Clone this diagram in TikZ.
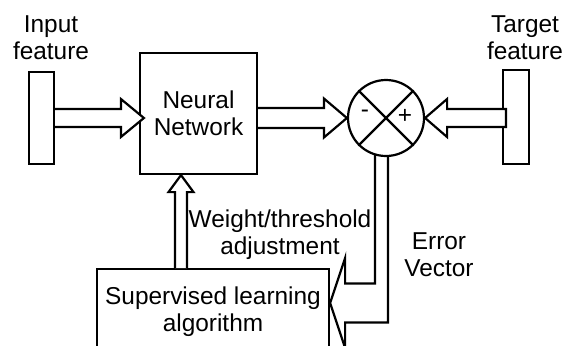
\documentclass[tikz,border=0pt]{standalone}
\usepackage{fontspec}
\setmainfont{Liberation Sans}
\usetikzlibrary{calc}
\begin{document}
\begin{tikzpicture}[x=0.5pt,y=-0.5pt, line width=1.1pt,
  font=\fontsize{12.2}{13.5}\selectfont,
  bar/.style={draw, rectangle, inner sep=0pt, minimum width=12.5pt, minimum height=46pt},
  box/.style={draw, rectangle, inner sep=0pt, align=center},
  lbl/.style={inner sep=0pt, align=center},
  blk/.style={draw, line join=miter, fill=white}]
\useasboundingbox (0,0) rectangle (563,345);
\clip (0,0) rectangle (563,345);
% nodes
\node[bar] (inbar) at (41.5,118) {};
\node[box, minimum width=58.5pt, minimum height=60.5pt] (nn) at (198.5,113.5) {Neural\\Network};
\node[draw, circle, inner sep=0pt, minimum size=38pt, fill=white] (sum) at (386,118) {};
\node[bar, minimum width=13pt, minimum height=47pt] (tbar) at (516,117) {};
\node[draw, rectangle, inner sep=0pt, minimum width=116pt, minimum height=60pt, anchor=north] (sla) at (213,268) {};
% labels
\node[lbl] (inlbl) at (51,38) {Input\\feature};
\node[lbl] (tlbl) at (525,37.5) {Target\\feature};
\node[lbl] (wlbl) at (280,234.5) {Weight/threshold\\adjustment};
\node[lbl] (elbl) at (439,254.5) {Error\\Vector};
\node[lbl] (slatext) at (213,312) {Supervised learning\\algorithm};
% circle cross and signs
\draw (sum.north east) -- (sum.south west);
\draw (sum.north west) -- (sum.south east);
\node[lbl] (minus) at ($(sum.center)+(-21,-4)$) {-};
\node[lbl] (plus) at ($(sum.center)+(19,-2)$) {+};
% input block arrow
\draw[blk] ($(inbar.east)+(0,-9)$) -- ($(nn.west|-inbar.east)+(-18,-9)$) -- ($(nn.west|-inbar.east)+(-18,-19)$)
  -- ($(nn.west|-inbar.east)+(5,0)$) -- ($(nn.west|-inbar.east)+(-18,19)$) -- ($(nn.west|-inbar.east)+(-18,9)$)
  -- ($(inbar.east)+(0,9)$);
% output block arrow
\draw[blk] ($(nn.east|-sum.west)+(0,-10)$) -- ($(sum.west)+(-23,-10)$) -- ($(sum.west)+(-23,-19.5)$)
  -- (sum.west) -- ($(sum.west)+(-23,19.5)$) -- ($(sum.west)+(-23,10)$) -- ($(nn.east|-sum.west)+(0,10)$);
% target block arrow
\draw[blk] (sum.east) -- ($(sum.east)+(22,-19)$) -- ($(sum.east)+(22,-9)$) -- ($(tbar.west|-sum.east)+(4,-9)$)
  -- ($(tbar.west|-sum.east)+(4,9)$) -- ($(sum.east)+(22,9)$) -- ($(sum.east)+(22,19)$) -- cycle;
% weight adjustment arrow
\coordinate (wt) at ($(nn.south)+(-17.5,0)$);
\draw[blk] ($(wt|-sla.north)+(-6,0)$) -- ($(wt)+(-6,17)$) -- ($(wt)+(-12.5,17)$) -- (wt)
  -- ($(wt)+(12.5,17)$) -- ($(wt)+(6,17)$) -- ($(wt|-sla.north)+(6,0)$);
% error vector arrow
\coordinate (et) at ($(sla.north east)+(0,35)$);
\coordinate (eA) at ($(sum.center)+(-11,36.4)$);
\coordinate (eB) at ($(sum.center)+(2,37.9)$);
\draw[line join=miter] (eA) -- ($(eA|-et)+(0,-19.5)$) -- ($(et)+(15,-19.5)$) -- ($(et)+(15,-45)$) -- (et)
  -- ($(et)+(15,45)$) -- ($(et)+(15,19.5)$) -- ($(eB|-et)+(0,19.5)$) -- (eB);
\end{tikzpicture}
\end{document}
